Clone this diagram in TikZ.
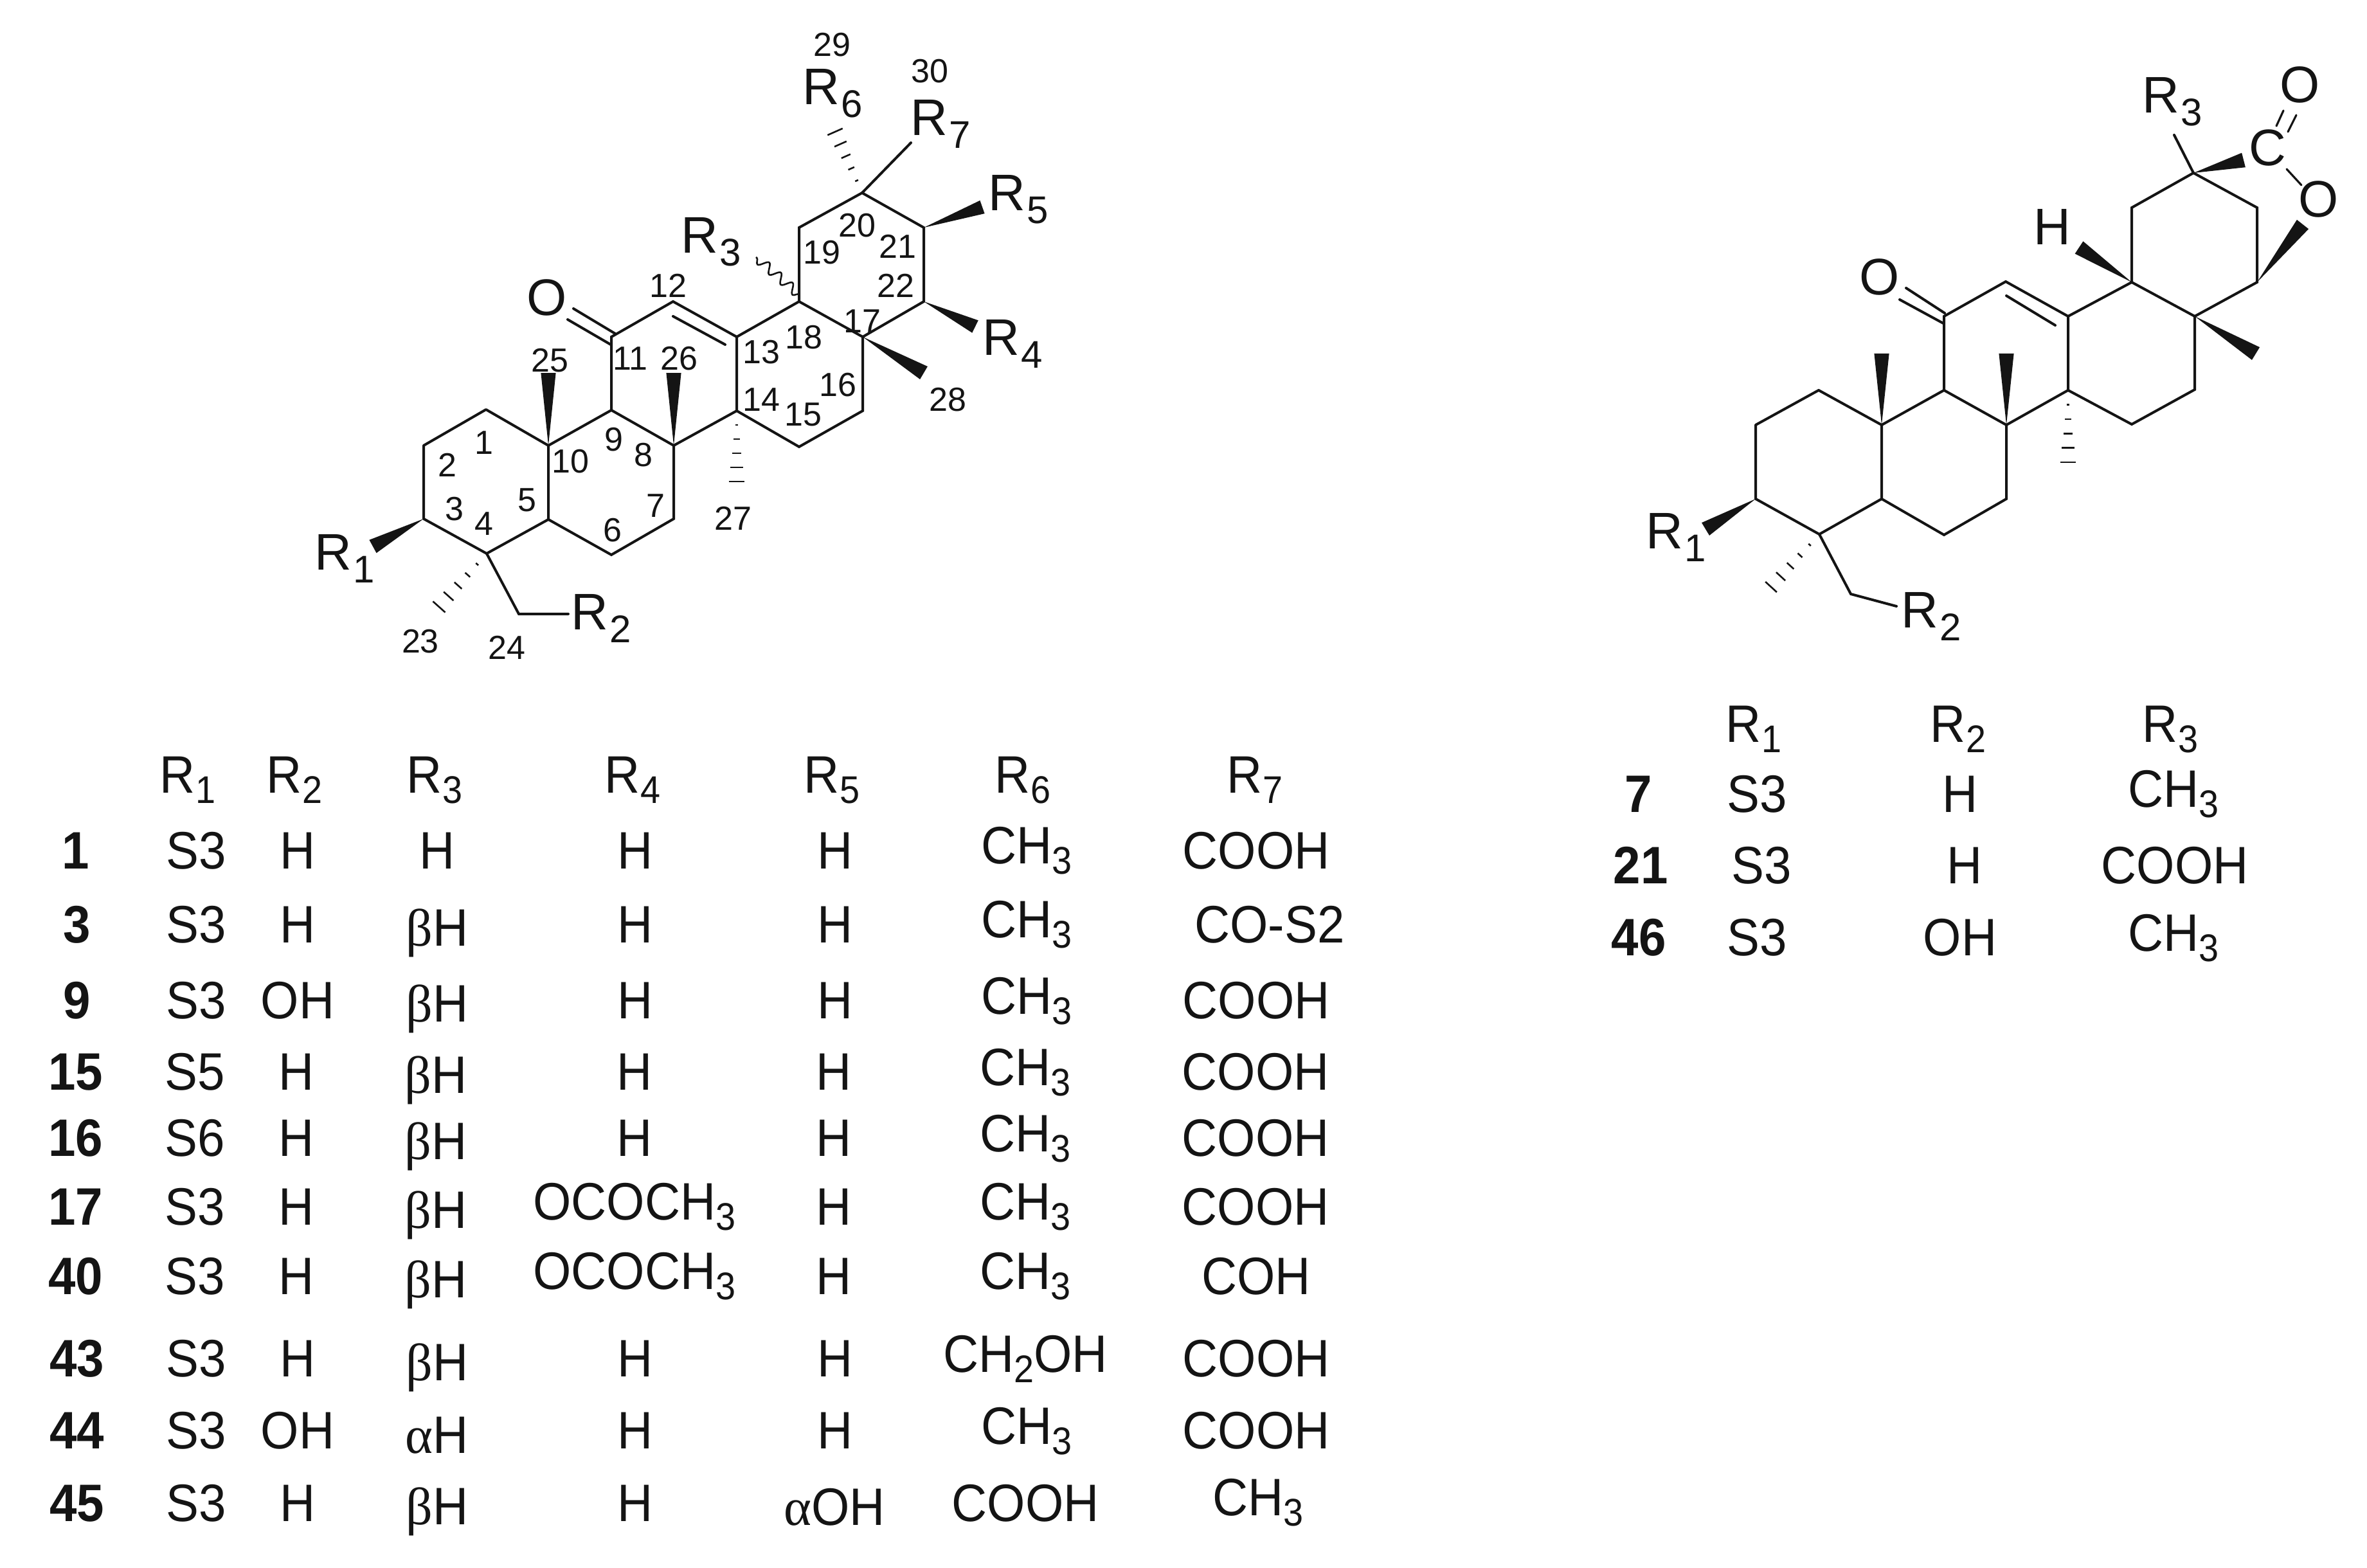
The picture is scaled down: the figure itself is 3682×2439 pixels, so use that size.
\documentclass[tikz,border=0pt]{standalone}
\usepackage{fontspec}
\usetikzlibrary{calc,decorations.pathmorphing}
\setmainfont{Liberation Sans}
\newfontfamily\tabfont[FakeStretch=0.93]{Liberation Sans}
\newfontfamily\grfont{Liberation Serif}
\definecolor{ink}{HTML}{141414}
\newcommand\subn[1]{\raisebox{-4pt}{\fontsize{15}{15}\selectfont #1}}
\newcommand\suba[1]{\raisebox{-5pt}{\kern.6pt\fontsize{15}{15}\selectfont #1}}
\newcommand\gb{{\grfont β}}
\newcommand\ga{{\grfont α}}
\newcommand\CHt{CH\subn{3}}
\tikzset{
  bond/.style={draw=ink,line width=1pt,line cap=round},
  atomlabel/.style={inner sep=0pt,text=ink,font=\fontsize{20}{20}\selectfont},
  numlabel/.style={inner sep=0pt,text=ink,font=\fontsize{13}{14}\selectfont},
  tcell/.style={inner sep=0pt,anchor=base,text=ink,font=\tabfont\fontsize{20.5}{21}\selectfont},
  tid/.style={tcell,font=\tabfont\bfseries\fontsize{20.5}{21}\selectfont},
  wavy/.style={draw=ink,line width=.65pt,decorate,decoration={snake,segment length=6pt,amplitude=1.8pt}}
}
\newcommand\wedgebond[3]{\fill[ink] (#1) -- ($(#2)!#3!90:(#1)$) -- ($(#2)!#3!-90:(#1)$) -- cycle;}
\newcommand\hashbond[4]{%
  \foreach \k in {1,...,#4}{%
    \pgfmathsetmacro\tt{\k/#4}%
    \pgfmathsetmacro\ww{#3*\tt}%
    \coordinate (hp) at ($(#1)!\tt!(#2)$);%
    \draw[draw=ink,line width=.65pt] ($(hp)!\ww pt!90:(#1)$) -- ($(hp)!\ww pt!-90:(#1)$);%
  }}
\newcommand\cellat[5][tcell]{\node[#1] (#2) at (#3,#4) {#5};}
\begin{document}
\begin{tikzpicture}[x=.25pt,y=-.25pt]
\useasboundingbox (0,0) rectangle (3682,2439);
\fill[white] (0,0) rectangle (3682,2439);
% ---------- left skeleton
\foreach \n/\x/\y in {3/659/807,2/659/693,1/756/637,10/853/693,5/853/808,4/757/861,6/951/863,7/1048/807,8/1048/693,9/951/638,11/951/524,12/1047/469,13/1146/524,14/1146/639,15/1243/695,16/1342/639,17/1342/524,18/1243/469,19/1243/354,20/1341/300,21/1437/354,22/1437/469}
  {\coordinate (a\n) at (\x,\y);}
\coordinate (aMe25) at (853,580);
\coordinate (aMe26) at (1048,580);
\coordinate (aMe28) at (1437,580);
\coordinate (aMe27) at (1146,749);
\coordinate (aMe23) at (683,944);
\coordinate (aCH2) at (807,955);
\coordinate (aR1end) at (580,850);
\coordinate (aR2end) at (884,955);
\coordinate (aR3start) at (1243,458);
\coordinate (aR3end) at (1176,400);
\coordinate (aR4end) at (1517,508);
\coordinate (aR5end) at (1528,322);
\coordinate (aR6end) at (1299,205);
\coordinate (aR7end) at (1417,222);
\coordinate (aOa) at (892,480);
\coordinate (aOb) at (883,497);
\coordinate (aCa) at (957,519);
\coordinate (aCb) at (950,536);
\coordinate (aDa) at (1047,492);
\coordinate (aDb) at (1128,536);
\draw[bond,line join=round] (a3)--(a2)--(a1)--(a10)--(a5)--(a4)--(a3);
\draw[bond] (a5)--(a6)--(a7)--(a8)--(a9)--(a10);
\draw[bond] (a9)--(a11)--(a12)--(a13)--(a14)--(a8);
\draw[bond] (a14)--(a15)--(a16)--(a17)--(a18)--(a13);
\draw[bond] (a18)--(a19)--(a20)--(a21)--(a22)--(a17);
\draw[bond] (aDa)--(aDb);
\draw[bond] (aCa)--(aOa);
\draw[bond] (aCb)--(aOb);
\draw[bond] (a4)--(aCH2)--(aR2end);
\draw[bond] (a20)--(aR7end);
\wedgebond{a10}{aMe25}{2.9pt}
\wedgebond{a8}{aMe26}{2.9pt}
\wedgebond{a17}{aMe28}{2.9pt}
\wedgebond{a3}{aR1end}{2.9pt}
\wedgebond{a21}{aR5end}{2.7pt}
\wedgebond{a22}{aR4end}{2.7pt}
\hashbond{a14}{aMe27}{3.1}{5}
\hashbond{a4}{aMe23}{3.2}{5}
\hashbond{a20}{aR6end}{3.2}{5}
\draw[wavy] (aR3start)--(aR3end);
\node[atomlabel] (lO) at (851,463) {O};
\node[atomlabel] (lR1) at (536,869) {R\suba{1}};
\node[atomlabel] (lR2) at (935,962) {R\suba{2}};
\node[atomlabel] (lR3) at (1106,376) {R\suba{3}};
\node[atomlabel] (lR4) at (1575,535) {R\suba{4}};
\node[atomlabel] (lR5) at (1584,310) {R\suba{5}};
\node[atomlabel] (lR6) at (1295,145) {R\suba{6}};
\node[atomlabel] (lR7) at (1463,193) {R\suba{7}};
\foreach \n/\x/\y in {29/1294/70,30/1446/111,20/1333/351,19/1278/393,21/1396/383,22/1393/444,12/1039/444,17/1341/500,18/1250/525,13/1184/548,11/980/558,25/855/561,26/1056/558,16/1303/599,14/1184/622,15/1249/645,28/1474/622,9/955/684,8/1001/708,10/887/718,1/753/689,2/696/723,3/707/792,5/820/778,7/1020/787,27/1140/806,4/753/815,6/953/825,23/654/998,24/788/1007}
  {\node[numlabel] (num\n) at (\x,\y) {\n};}
% ---------- right skeleton
\foreach \n/\x/\y in {3/2731/776,2/2731/661,1/2829/607,10/2927/661,5/2927/776,4/2830/831,6/3024/832,7/3121/776,8/3121/661,9/3024/607,11/3024/492,12/3120/438,13/3217/492,14/3217/607,15/3316/660,16/3414/606,17/3414/492,18/3316/439,19/3316/323,20/3412/269,21/3511/323,22/3511/439}
  {\coordinate (b\n) at (\x,\y);}
\coordinate (bMe25) at (2927,550);
\coordinate (bMe26) at (3121,550);
\coordinate (bMe28) at (3509,550);
\coordinate (bMe27) at (3217,719);
\coordinate (bMe23) at (2755,913);
\coordinate (bCH2) at (2879,924);
\coordinate (bR1end) at (2653,823);
\coordinate (bR2end) at (2950,943);
\coordinate (bR3end) at (3382,210);
\coordinate (bHend) at (3234,385);
\coordinate (bOend) at (3582,349);
\coordinate (bCend) at (3490,249);
\coordinate (bOa) at (2965,448);
\coordinate (bOb) at (2955,466);
\coordinate (bCa) at (3025,487);
\coordinate (bCb) at (3023,503);
\coordinate (bDa) at (3121,460);
\coordinate (bDb) at (3197,506);
\coordinate (bPa) at (3541,196);
\coordinate (bPb) at (3552,172);
\coordinate (bQa) at (3559,205);
\coordinate (bQb) at (3572,179);
\coordinate (bSa) at (3557,263);
\coordinate (bSb) at (3580,288);
\draw[bond,line join=round] (b3)--(b2)--(b1)--(b10)--(b5)--(b4)--(b3);
\draw[bond] (b5)--(b6)--(b7)--(b8)--(b9)--(b10);
\draw[bond] (b9)--(b11)--(b12)--(b13)--(b14)--(b8);
\draw[bond] (b14)--(b15)--(b16)--(b17)--(b18)--(b13);
\draw[bond] (b18)--(b19)--(b20)--(b21)--(b22)--(b17);
\draw[bond] (bDa)--(bDb);
\draw[bond] (bCa)--(bOa);
\draw[bond] (bCb)--(bOb);
\draw[bond] (b4)--(bCH2)--(bR2end);
\draw[bond] (b20)--(bR3end);
\draw[bond,line width=.8pt] (bPa)--(bPb);
\draw[bond,line width=.8pt] (bQa)--(bQb);
\draw[bond,line width=.8pt] (bSa)--(bSb);
\wedgebond{b10}{bMe25}{2.9pt}
\wedgebond{b8}{bMe26}{2.9pt}
\wedgebond{b17}{bMe28}{2.9pt}
\wedgebond{b18}{bHend}{2.9pt}
\wedgebond{b3}{bR1end}{2.9pt}
\wedgebond{b22}{bOend}{2.9pt}
\wedgebond{b20}{bCend}{2.9pt}
\hashbond{b14}{bMe27}{3}{5}
\hashbond{b4}{bMe23}{3}{5}
\node[atomlabel] (rO1) at (2924,431) {O};
\node[atomlabel] (rH) at (3192,353) {H};
\node[atomlabel] (rC) at (3527,230) {C};
\node[atomlabel] (rO2) at (3578,132) {O};
\node[atomlabel] (rO3) at (3607,310) {O};
\node[atomlabel] (rR1) at (2607,836) {R\suba{1}};
\node[atomlabel] (rR2) at (3004,959) {R\suba{2}};
\node[atomlabel] (rR3) at (3379,158) {R\suba{3}};
% ---------- left table header
\cellat{hR1}{292}{1233}{R\subn{1}}
\cellat{hR2}{458}{1233}{R\subn{2}}
\cellat{hR3}{676}{1233}{R\subn{3}}
\cellat{hR4}{984}{1233}{R\subn{4}}
\cellat{hR5}{1294}{1233}{R\subn{5}}
\cellat{hR6}{1591}{1233}{R\subn{6}}
\cellat{hR7}{1952}{1233}{R\subn{7}}
% row 1
\cellat[tid]{i1}{118}{1351}{1}
\cellat{c1a}{305}{1351}{S3}\cellat{c1b}{463}{1351}{H}\cellat{c1c}{680}{1351}{H}\cellat{c1d}{988}{1351}{H}\cellat{c1e}{1299}{1351}{H}\cellat{c1f}{1597}{1343}{\CHt}\cellat{c1g}{1954}{1351}{COOH}
% row 3
\cellat[tid]{i3}{120}{1466}{3}
\cellat{c3a}{305}{1466}{S3}\cellat{c3b}{463}{1466}{H}\cellat{c3c}{680}{1471}{\gb H}\cellat{c3d}{988}{1466}{H}\cellat{c3e}{1299}{1466}{H}\cellat{c3f}{1597}{1458}{\CHt}\cellat{c3g}{1975}{1466}{CO-S2}
% row 9
\cellat[tid]{i9}{120}{1584}{9}
\cellat{c9a}{305}{1584}{S3}\cellat{c9b}{463}{1584}{OH}\cellat{c9c}{680}{1589}{\gb H}\cellat{c9d}{988}{1584}{H}\cellat{c9e}{1299}{1584}{H}\cellat{c9f}{1597}{1577}{\CHt}\cellat{c9g}{1954}{1584}{COOH}
% row 15
\cellat[tid]{i15}{118}{1695}{15}
\cellat{c15a}{303}{1695}{S5}\cellat{c15b}{461}{1695}{H}\cellat{c15c}{678}{1700}{\gb H}\cellat{c15d}{987}{1695}{H}\cellat{c15e}{1297}{1695}{H}\cellat{c15f}{1595}{1688}{\CHt}\cellat{c15g}{1953}{1695}{COOH}
% row 16
\cellat[tid]{i16}{118}{1798}{16}
\cellat{c16a}{303}{1798}{S6}\cellat{c16b}{461}{1798}{H}\cellat{c16c}{678}{1803}{\gb H}\cellat{c16d}{987}{1798}{H}\cellat{c16e}{1297}{1798}{H}\cellat{c16f}{1595}{1791}{\CHt}\cellat{c16g}{1953}{1798}{COOH}
% row 17
\cellat[tid]{i17}{118}{1905}{17}
\cellat{c17a}{303}{1905}{S3}\cellat{c17b}{461}{1905}{H}\cellat{c17c}{678}{1910}{\gb H}\cellat{c17d}{987}{1897}{OCOCH\subn{3}}\cellat{c17e}{1297}{1905}{H}\cellat{c17f}{1595}{1897}{\CHt}\cellat{c17g}{1953}{1905}{COOH}
% row 40
\cellat[tid]{i40}{118}{2013}{40}
\cellat{c40a}{303}{2013}{S3}\cellat{c40b}{461}{2013}{H}\cellat{c40c}{678}{2018}{\gb H}\cellat{c40d}{987}{2005}{OCOCH\subn{3}}\cellat{c40e}{1297}{2013}{H}\cellat{c40f}{1595}{2005}{\CHt}\cellat{c40g}{1954}{2013}{COH}
% row 43
\cellat[tid]{i43}{120}{2141}{43}
\cellat{c43a}{305}{2141}{S3}\cellat{c43b}{463}{2141}{H}\cellat{c43c}{680}{2147}{\gb H}\cellat{c43d}{988}{2141}{H}\cellat{c43e}{1299}{2141}{H}\cellat{c43f}{1595}{2134}{CH\subn{2}OH}\cellat{c43g}{1954}{2141}{COOH}
% row 44
\cellat[tid]{i44}{120}{2253}{44}
\cellat{c44a}{305}{2253}{S3}\cellat{c44b}{463}{2253}{OH}\cellat{c44c}{680}{2260}{\ga H}\cellat{c44d}{988}{2253}{H}\cellat{c44e}{1299}{2253}{H}\cellat{c44f}{1597}{2246}{\CHt}\cellat{c44g}{1954}{2253}{COOH}
% row 45
\cellat[tid]{i45}{120}{2366}{45}
\cellat{c45a}{305}{2366}{S3}\cellat{c45b}{463}{2366}{H}\cellat{c45c}{680}{2371}{\gb H}\cellat{c45d}{988}{2366}{H}\cellat{c45e}{1298}{2372}{\ga OH}\cellat{c45f}{1595}{2366}{COOH}\cellat{c45g}{1957}{2357}{\CHt}
% ---------- right table
\cellat{qR1}{2728}{1154}{R\subn{1}}
\cellat{qR2}{3046}{1154}{R\subn{2}}
\cellat{qR3}{3376}{1154}{R\subn{3}}
\cellat[tid]{i7}{2549}{1263}{7}
\cellat{d7a}{2733}{1263}{S3}\cellat{d7b}{3049}{1263}{H}\cellat{d7c}{3381}{1255}{\CHt}
\cellat[tid]{i21}{2552}{1374}{21}
\cellat{d21a}{2740}{1374}{S3}\cellat{d21b}{3056}{1374}{H}\cellat{d21c}{3383}{1374}{COOH}
\cellat[tid]{i46}{2549}{1486}{46}
\cellat{d46a}{2733}{1486}{S3}\cellat{d46b}{3049}{1486}{OH}\cellat{d46c}{3381}{1479}{\CHt}
\end{tikzpicture}
\end{document}
